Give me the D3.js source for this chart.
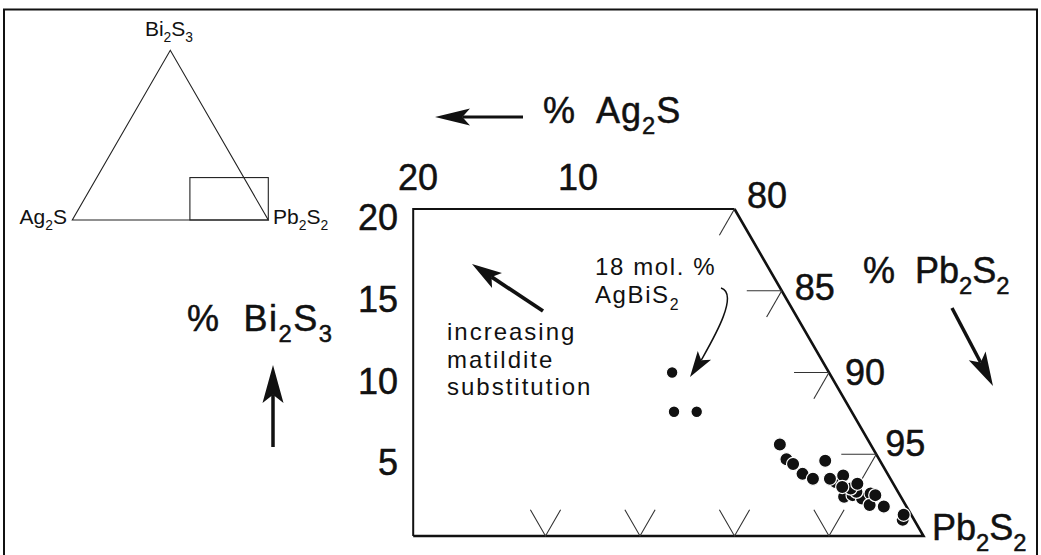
<!DOCTYPE html>
<meta charset="utf-8">
<head>
  <title>Galena compositions, Pb2S2 - Bi2S3 - Ag2S</title>
  <script src="https://d3js.org/d3.v7.min.js"></script>
  <style>
    body { margin: 0; background: #fff; }
    svg { display: block; font-family: "Liberation Sans", Arial, Helvetica, sans-serif; }
    .heavy { stroke: #111; stroke-width: 0.5px; }
  </style>
</head>
<body>
<div id="my_dataviz"></div>
<script>

// mol % Ag2S and Bi2S3 (Pb2S2 is the rest) - galena analyses
var sampleAg2S  = [4.9, 0.6, 3.0, 3.2, 3.0, 2.5, 2.1, 2.2, 1.5, 1.9, 2.4, 4.8, 4.7, 2.9, 4.5, 4.1, 2.4, 2.8, 1.9, 1.3, 1.2, 0.4];
var sampleBi2S3 = [4.7, 1.0, 3.3, 3.5, 2.4, 2.5, 2.3, 2.7, 2.6, 1.9, 2.9, 5.6, 4.4, 4.6, 3.8, 3.5, 3.7, 3.0, 3.2, 2.5, 1.8, 1.3];

// the three points with ~18 mol. % AgBiS2
var matilditeAg2S  = [8.3, 9.4, 8.2];
var matilditeBi2S3 = [10.0, 7.6, 7.6];

var pbTicks = [80, 85, 90, 95];
var biTicks = [5, 10, 15, 20];
var agTicks = [5, 10, 15, 20];
var agLabels = ["20", "10"];

var W = 1041, H = 555;
var svg = d3.select("#my_dataviz")
  .append("svg")
    .attr("width", W)
    .attr("height", H);

// outer frame
svg.append("rect")
  .attr("x", 4).attr("y", 9.5)
  .attr("width", 1033).attr("height", 560)
  .attr("fill", "none").attr("stroke", "#111").attr("stroke-width", 2);

// ternary projection: u = Ag2S + Bi2S3/2 along the base, v = Bi2S3 height
var U = d3.scaleLinear().domain([0, 27]).range([923.5, 923.5 - 27 * 18.9]);
var V = d3.scaleLinear().domain([0, 20]).range([536, 209]);
function proj(ag, bi) { return [U(ag + bi / 2), V(bi)]; }

// field outline
var field = [proj(27, 0), proj(17, 20), proj(0, 20)];
svg.append("path")
  .attr("d", d3.line()(field))
  .attr("fill", "none").attr("stroke", "#111").attr("stroke-width", 2);
svg.append("path")
  .attr("d", d3.line()([proj(0, 20), proj(0, 0), proj(27, 0)]))
  .attr("fill", "none").attr("stroke", "#111").attr("stroke-width", 2.6);

// ticks
var tk = svg.append("g").attr("stroke", "#333").attr("stroke-width", 1.1).attr("fill", "none");
pbTicks.forEach(function(p) {
  var bi = 100 - p;
  tk.append("path").attr("d", d3.line()([proj(0, bi), proj(1.6, bi - 1.6)]));
  if (p > 80) tk.append("path").attr("d", d3.line()([proj(0, bi), proj(1.85, bi)]));
});
agTicks.forEach(function(a) {
  tk.append("path").attr("d", d3.line()([proj(a, 1.6), proj(a, 0), proj(a - 1.6, 1.6)]));
});

// tick labels
var num = svg.append("g").attr("class", "heavy").style("font-size", "36px").attr("fill", "#111");
var pbNudge = {80: [12.5, -1], 85: [13, 9], 90: [16, 12], 95: [9, 2]};
pbTicks.forEach(function(p) {
  var e = proj(0, 100 - p);
  num.append("text").attr("x", e[0] + pbNudge[p][0]).attr("y", e[1] + pbNudge[p][1]).text(p);
});
biTicks.forEach(function(b) {
  num.append("text").attr("x", 398).attr("y", V(b) + 21).attr("text-anchor", "end").text(b);
});
num.append("text").attr("x", 418).attr("y", 190).attr("text-anchor", "middle").text(agLabels[0]);
num.append("text").attr("x", 578).attr("y", 190).attr("text-anchor", "middle").text(agLabels[1]);

// data points
var dots = svg.append("g").attr("fill", "#111").attr("stroke", "#fff").attr("stroke-width", 1.2);
dots.selectAll("circle.s")
  .data(d3.range(sampleAg2S.length))
  .enter().append("circle")
    .attr("class", "s")
    .attr("cx", function(i) { return proj(sampleAg2S[i], sampleBi2S3[i])[0]; })
    .attr("cy", function(i) { return proj(sampleAg2S[i], sampleBi2S3[i])[1]; })
    .attr("r", 6.6);
dots.selectAll("circle.m")
  .data(d3.range(matilditeAg2S.length))
  .enter().append("circle")
    .attr("class", "m")
    .attr("cx", function(i) { return proj(matilditeAg2S[i], matilditeBi2S3[i])[0]; })
    .attr("cy", function(i) { return proj(matilditeAg2S[i], matilditeBi2S3[i])[1]; })
    .attr("r", 5.8);

// chemical formula text, "_2" = subscript 2
function chem(g, str, x, y, size, anchor, ls) {
  var t = g.append("text").attr("x", x).attr("y", y)
    .attr("text-anchor", anchor || "start")
    .style("font-size", size + "px")
    .style("letter-spacing", (ls || 0) + "px")
    .attr("fill", "#111");
  var sub = false, drop = size * 0.3, re = /_(\d)|([^_]+)/g, m;
  while ((m = re.exec(str))) {
    if (m[1]) {
      t.append("tspan").attr("dy", sub ? 0 : drop).style("font-size", (size * 0.66) + "px").text(m[1]);
      sub = true;
    } else {
      t.append("tspan").attr("dy", sub ? -drop : 0).text(m[2]);
      sub = false;
    }
  }
  return t;
}

function arrow(g, x1, y1, x2, y2, len, hw, sw) {
  var a = Math.atan2(y2 - y1, x2 - x1), c = Math.cos(a), s = Math.sin(a);
  var bx = x2 - c * len, by = y2 - s * len;
  var nx = x2 - c * len * 0.78, ny = y2 - s * len * 0.78;
  g.append("line").attr("x1", x1).attr("y1", y1).attr("x2", nx).attr("y2", ny)
    .attr("stroke", "#111").attr("stroke-width", sw);
  g.append("path")
    .attr("d", "M" + x2 + "," + y2 + "L" + (bx - s * hw) + "," + (by + c * hw) +
               "L" + nx + "," + ny + "L" + (bx + s * hw) + "," + (by - c * hw) + "Z")
    .attr("fill", "#111");
}

var ann = svg.append("g");
var big = ann.append("g").attr("class", "heavy");

// axis titles
chem(big, "%\u00a0 Ag_2S", 543, 123, 36, "start", 1);
arrow(ann, 523, 117, 435, 117, 35, 8.5, 3.2);
chem(big, "%\u00a0 Pb_2S_2", 863, 283, 36, "start", 0);
arrow(ann, 952, 308, 993, 386, 34, 9.5, 3.5);
chem(big, "%\u00a0 Bi_2S_3", 187, 331, 36, "start", 1.5);
arrow(ann, 273, 447, 273, 365, 38, 10.5, 3.5);
chem(big, "Pb_2S_2", 932, 540, 36, "start", 0);

// annotations
var small = ann.append("g").style("font-size", "24px").style("letter-spacing", "2px").attr("fill", "#111");
small.append("text").attr("x", 447).attr("y", 340).text("increasing");
small.append("text").attr("x", 447).attr("y", 368).text("matildite");
small.append("text").attr("x", 447).attr("y", 395).text("substitution");
arrow(ann, 543, 311, 472, 264, 30, 9, 3.8);

small.append("text").attr("x", 595).attr("y", 275).style("letter-spacing", "1.6px").text("18 mol. %");
chem(ann, "AgBiS_2", 595, 303, 24, "start", 1.6);
ann.append("path")
  .attr("d", "M721,288 C740,294 712,341 701.3,360")
  .attr("fill", "none").attr("stroke", "#111").attr("stroke-width", 1.5);
arrow(ann, 708, 350, 690, 377, 26, 8, 0);

// inset triangle
var iU = d3.scaleLinear().domain([0, 100]).range([268.3, 72.3]);
var iV = d3.scaleLinear().domain([0, 100]).range([220, 220 - 169.7]);
function iproj(ag, bi) { return [iU(ag + bi / 2), iV(bi)]; }
var inset = svg.append("g").attr("fill", "none").attr("stroke", "#222").attr("stroke-width", 1.1);
inset.append("path").attr("d", d3.line()([iproj(0, 0), iproj(100, 0), iproj(0, 100)]) + "Z");
inset.append("rect")
  .attr("x", iU(40)).attr("y", iV(25))
  .attr("width", iU(0) - iU(40)).attr("height", iV(0) - iV(25));
chem(ann, "Bi_2S_3", 169, 36, 21, "middle", 0);
chem(ann, "Ag_2S", 67, 224, 21, "end", 0);
chem(ann, "Pb_2S_2", 273, 224, 21, "start", 0);

</script>
</body>
